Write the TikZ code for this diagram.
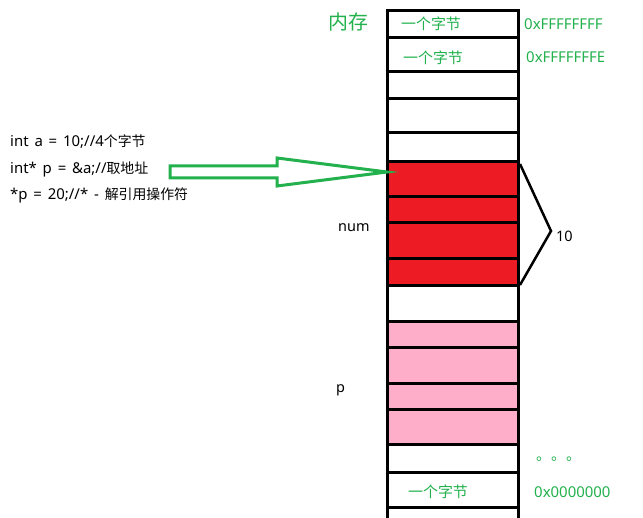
\documentclass[tikz,border=0pt]{standalone}
\usepackage{fontspec}
\setmainfont{Noto Sans}[WordSpace=1.5]
\newfontfamily\cjk{Noto Sans CJK SC}
\newfontfamily\cjks{Noto Sans CJK SC}[Scale=0.93]
\usetikzlibrary{calc}
\definecolor{pgreen}{RGB}{34,177,76}
\definecolor{pred}{RGB}{237,28,36}
\definecolor{ppink}{RGB}{255,174,201}
\tikzset{
  cell/.style={draw=black, line width=3bp, minimum width=131bp, inner sep=0pt, outer sep=0pt},
  glab/.style={text=pgreen, font=\fontsize{15}{17}\selectfont, inner sep=0pt},
  code/.style={text=black, font=\fontsize{15}{17}\selectfont, inner sep=0pt, anchor=west},
  blab/.style={text=black, font=\fontsize{14.5}{17}\selectfont, inner sep=0pt, anchor=west},
}
\newcommand{\memcell}[4]{%
  \node[cell, fill=#4, minimum height=#3bp-#2bp] (#1) at (452.5, {(#2+#3)/2}) {};}
\begin{document}
\begin{tikzpicture}[x=1bp, y=-1bp]
\useasboundingbox[fill=white] (0,0) rectangle (643,518);
\memcell{c1}{11}{38}{white}
\memcell{c2}{38}{72}{white}
\memcell{c3}{72}{99}{white}
\memcell{c4}{99}{133}{white}
\memcell{c5}{133}{162}{white}
\memcell{c6}{162}{197}{pred}
\memcell{c7}{197}{223}{pred}
\memcell{c8}{223}{258}{pred}
\memcell{c9}{258}{285}{pred}
\memcell{c10}{285}{321}{white}
\memcell{c11}{321}{347}{ppink}
\memcell{c12}{347}{383}{ppink}
\memcell{c13}{383}{409}{ppink}
\memcell{c14}{409}{444}{ppink}
\memcell{c15}{444}{472}{white}
\memcell{c16}{472}{507}{white}
\draw[line width=3bp] (c16.south west) -- ++(0,11);
\draw[line width=3bp] (c16.south east) -- ++(0,11);

% labels in cells
\node[glab] (b1) at (431,24) {\cjk 一个字节};
\node[glab] (b2) at (433,58) {\cjk 一个字节};
\node[glab] (b3) at (438,492) {\cjk 一个字节};
\node[text=pgreen, font=\fontsize{20}{23}\selectfont\cjk, inner sep=0pt] (mem) at (348,22) {内存};
\node[glab, anchor=west] (h1) at (524,24) {0xFFFFFFFF};
\node[glab, anchor=west] (h2) at (526,57) {0xFFFFFFFE};
\node[glab, anchor=west] (h3) at (534,492) {0x0000000};
\node[text=pgreen, font=\fontsize{15}{17}\selectfont\cjk, inner sep=0pt, anchor=base west] (dots) at (536,460) {。。。};

% code
\node[code] (l1) at (10,142) {int a = 10;//4{\cjks 个字节}};
\node[code] (l2) at (10,169) {int* p = \&a;//{\cjks 取地址}};
\node[code] (l3) at (10,195) {*p = 20;//* - {\cjks 解引用操作符}};

\node[blab] (num) at (338,228) {num};
\node[blab] (pp) at (336,390) {p};

% brace
\coordinate (bv) at (551,231);
\draw[line width=2.5bp, line join=miter] ($(c6.north east)+(2,2)$) -- (bv) -- ($(c9.south east)+(2,0)$);
\node[blab] (ten) at (556,236) {10};

% hollow arrow
\draw[pgreen, line width=3bp, line join=miter]
  (170,166) -- (277,166) -- (277,158) -- (c6.west |- 0,172) -- (277,186) -- (277,178) -- (170,178) -- cycle;
\end{tikzpicture}
\end{document}
